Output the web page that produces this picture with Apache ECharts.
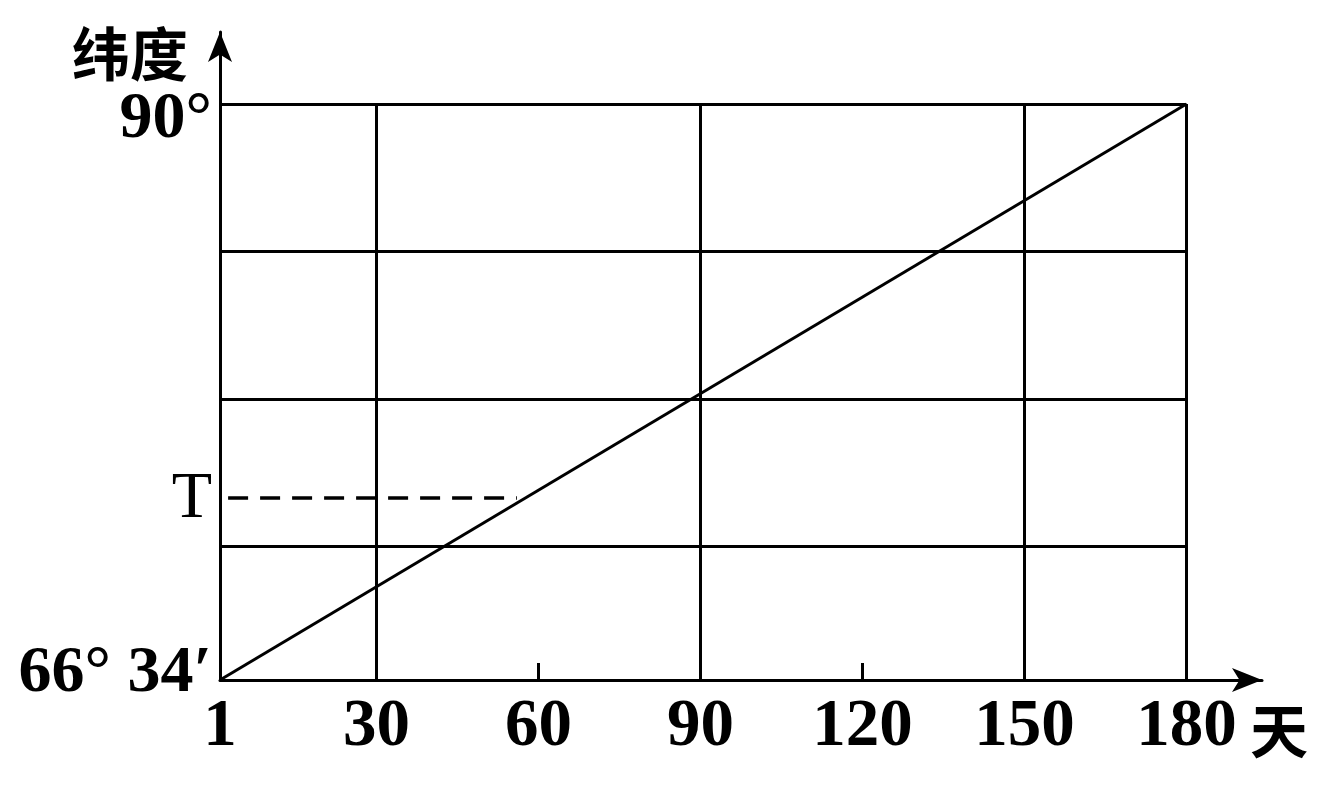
<!DOCTYPE html>
<html>
<head>
<meta charset="utf-8">
<script src="https://cdn.jsdelivr.net/npm/echarts@6/dist/echarts.min.js"></script>
<style>
html,body{margin:0;padding:0;background:#fff;}
#chart{width:1336px;height:785px;}
</style>
</head>
<body>
<div id="chart"></div>
<script>
// ---- data ----
const days = [1, 180];
const latitude = [66.5667, 90];           // 66°34′ -> 90°
const xLabelValues = [1, 30, 60, 90, 120, 150, 180];
const xTickValues = [60, 120];
const gridXValues = [30, 90, 150, 180];
const gridYValues = [72, 78, 84, 90];
const yLabelValues = [66.5667, 74.0, 90];
const yLabelTexts = ['66° 34′', 'T', '90°'];
const tLatitude = 74.0;
const tDayRange = [2.5, 56];

const xMin = 1, xMax = 194, yMin = 66.5667, yMax = 92.93;

const serif = '"Liberation Serif","Times New Roman",serif';
const cjk = '"Noto Sans CJK SC","Noto Sans CJK JP",sans-serif';

const markData = [];
gridXValues.forEach(v => markData.push([{coord: [v, yMin]}, {coord: [v, 90]}]));
gridYValues.forEach(v => markData.push([{coord: [1, v]}, {coord: [180, v]}]));
markData.push([
  {coord: [tDayRange[0], tLatitude], lineStyle: {type: [20, 12], width: 3.5}},
  {coord: [tDayRange[1], tLatitude]}
]);

const chart = echarts.init(document.getElementById('chart'), null, {renderer: 'canvas'});
chart.setOption({
  backgroundColor: '#fff',
  animation: false,
  tooltip: {show: false},
  grid: {left: 220, right: 74, top: 32, bottom: 105, containLabel: false, outerBoundsMode: 'none'},
  xAxis: {
    type: 'value', min: xMin, max: xMax,
    name: '天', nameLocation: 'end', nameGap: -12,
    nameTextStyle: {fontFamily: cjk, fontSize: 58, fontWeight: 'bold', color: '#000', align: 'left', verticalAlign: 'top', padding: [22, 0, 0, 0]},
    axisLine: {show: true, symbol: ['none', 'arrow'], symbolSize: [18, 30], lineStyle: {color: '#000', width: 3}},
    axisTick: {show: true, customValues: xTickValues, inside: true, length: 17, lineStyle: {color: '#000', width: 3}},
    axisLabel: {
      customValues: xLabelValues, margin: 14,
      fontFamily: serif, fontSize: 67, fontWeight: 'bold', color: '#000'
    },
    splitLine: {show: false}
  },
  yAxis: {
    type: 'value', min: yMin, max: yMax,
    name: '纬度', nameLocation: 'end', nameGap: -22,
    nameTextStyle: {fontFamily: cjk, fontSize: 58, fontWeight: 'bold', color: '#000', align: 'right', verticalAlign: 'middle', padding: [0, 32, 0, 0]},
    axisLine: {show: true, symbol: ['none', 'arrow'], symbolSize: [18, 30], lineStyle: {color: '#000', width: 3}},
    axisTick: {show: false},
    axisLabel: {
      customValues: yLabelValues, margin: 8,
      fontFamily: serif, fontSize: 66, color: '#000',
      formatter: function (v) {
        const i = yLabelValues.findIndex(x => Math.abs(x - v) < 0.01);
        if (i === 0) return '{lo|' + yLabelTexts[0] + '}';
        if (i === 2) return '{hi|' + yLabelTexts[2] + '}';
        return '{t|' + yLabelTexts[1] + '}';
      },
      rich: {
        lo: {fontFamily: serif, fontSize: 66, fontWeight: 'bold', color: '#000', padding: [0, 0, 12, 0]},
        hi: {fontFamily: serif, fontSize: 66, fontWeight: 'bold', color: '#000', padding: [32, 0, 0, 0]},
        t: {fontFamily: serif, fontSize: 66, color: '#000', padding: [4, 0, 0, 0]}
      }
    },
    splitLine: {show: false}
  },
  series: [{
    type: 'line',
    data: days.map((d, i) => [d, latitude[i]]),
    symbol: 'none',
    silent: true,
    lineStyle: {color: '#000', width: 3},
    markLine: {
      silent: true,
      symbol: ['none', 'none'],
      label: {show: false},
      lineStyle: {color: '#000', width: 3, type: 'solid'},
      emphasis: {disabled: true},
      data: markData
    }
  }]
});
</script>
</body>
</html>
